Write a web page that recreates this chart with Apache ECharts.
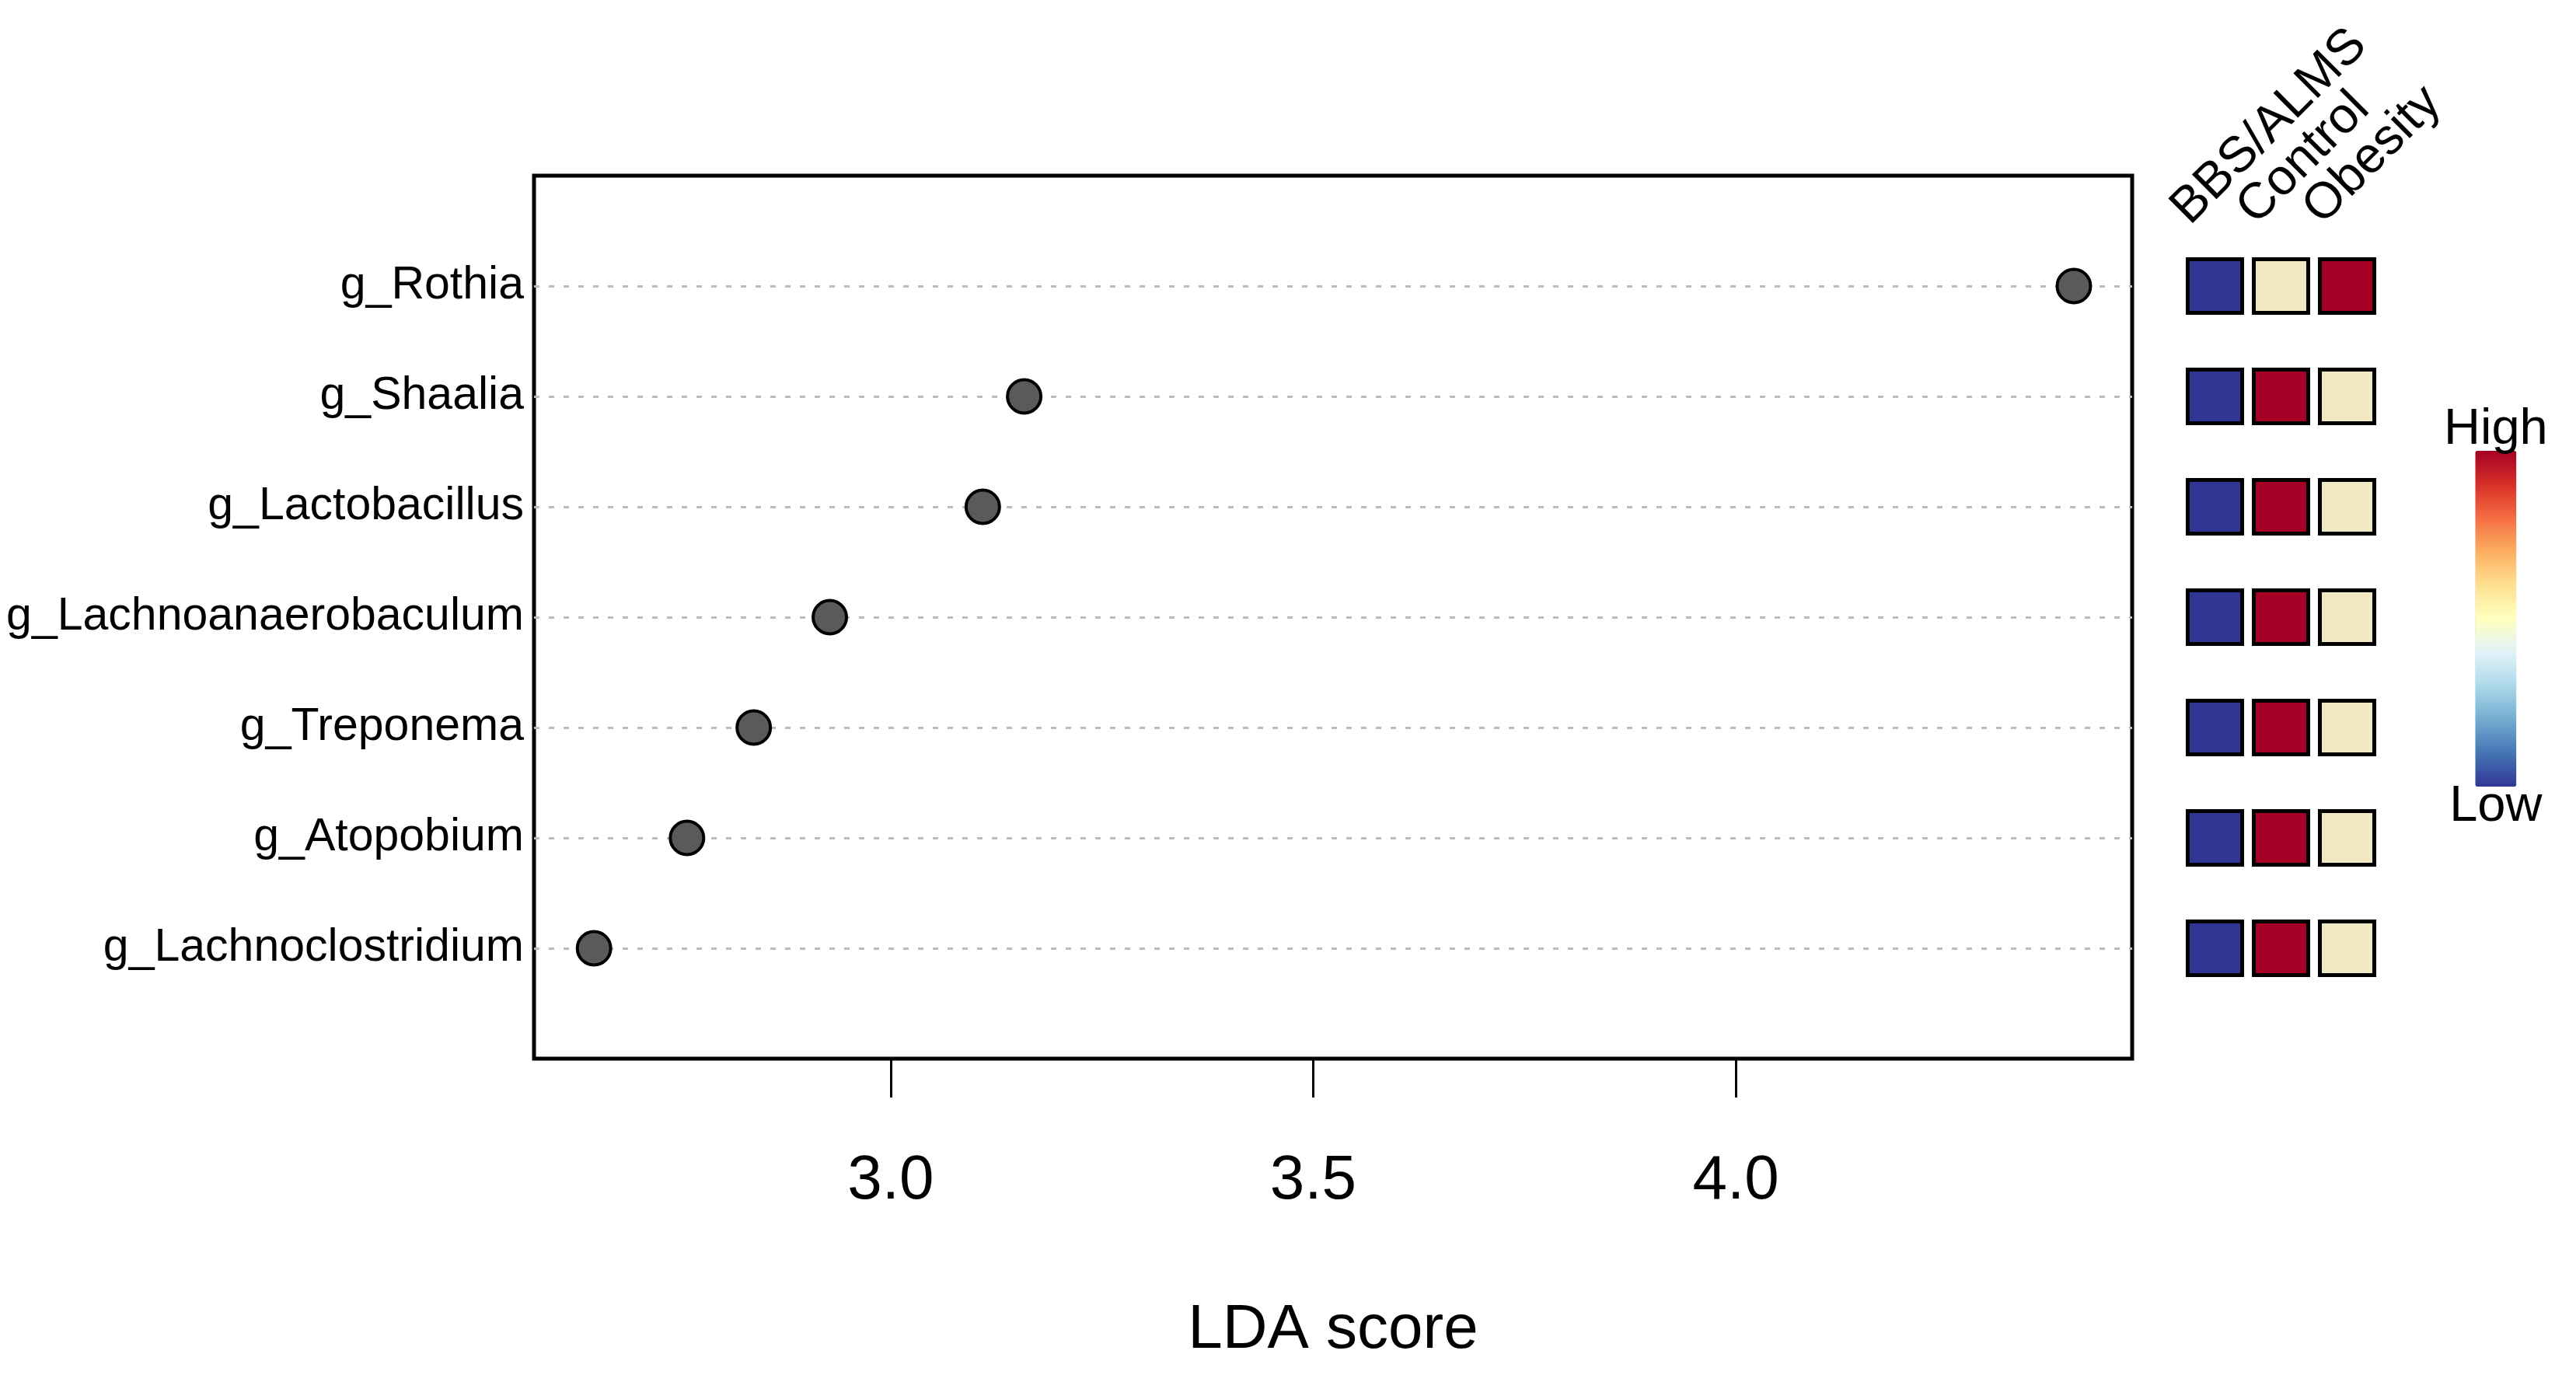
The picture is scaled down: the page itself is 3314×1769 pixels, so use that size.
<!DOCTYPE html>
<html>
<head>
<meta charset="utf-8">
<script src="https://cdn.jsdelivr.net/npm/echarts@6/dist/echarts.min.js"></script>
<style>
html,body{margin:0;padding:0;background:#fff;}
#chart{width:3314px;height:1769px;}
</style>
</head>
<body>
<div id="chart"></div>
<script>
// ---- data ----
const taxa = ['g_Rothia','g_Shaalia','g_Lactobacillus','g_Lachnoanaerobaculum','g_Treponema','g_Atopobium','g_Lachnoclostridium'];
const ldaScores = [4.400, 3.158, 3.109, 2.928, 2.838, 2.759, 2.649];
const groups = ['BBS/ALMS','Control','Obesity'];
// relative abundance level per taxon: [BBS/ALMS, Control, Obesity] (0 = low, 0.5 = mid, 1 = high)
const levelBBS     = [0, 0, 0, 0, 0, 0, 0];
const levelControl = [0.5, 1, 1, 1, 1, 1, 1];
const levelObesity = [1, 0.5, 0.5, 0.5, 0.5, 0.5, 0.5];
const xTicks = [3.0, 3.5, 4.0];

const FONT = 'Liberation Sans, Arial, sans-serif';
const levels = [levelBBS, levelControl, levelObesity];
const dotData = ldaScores.map((v, i) => [v, i + 1]);
const cellData = [];
taxa.forEach((t, i) => {
  levels.forEach((arr, j) => cellData.push([j, i + 1, arr[i]]));
});

const chart = echarts.init(document.getElementById('chart'), null, {renderer: 'canvas'});
chart.setOption({
  animation: false,
  backgroundColor: '#fff',
  textStyle: {fontFamily: FONT, color: '#000'},
  grid: [
    {left: 687, top: 226, width: 2056, height: 1136, show: true, borderColor: '#000', borderWidth: 5, backgroundColor: 'transparent', containLabel: false},
    {left: 2807, top: 226, width: 255, height: 1136, containLabel: false},
    {left: 2762, top: 321, width: 255, height: 10, containLabel: false}
  ],
  xAxis: [
    {
      gridIndex: 0, type: 'value', min: 2.578, max: 4.469, position: 'bottom',
      axisLine: {show: false, onZero: false},
      axisTick: {show: true, customValues: xTicks, length: 50, lineStyle: {color: '#000', width: 3}},
      axisLabel: {customValues: xTicks, formatter: v => Number(v).toFixed(1), fontSize: 80, margin: 118, color: '#000', fontFamily: FONT},
      splitLine: {show: false},
      name: 'LDA score', nameLocation: 'middle', nameGap: 310,
      nameTextStyle: {fontSize: 80, color: '#000', fontFamily: FONT}
    },
    {gridIndex: 1, type: 'category', data: groups, show: false, axisLine: {onZero: false}},
    {
      gridIndex: 2, type: 'category', data: groups, position: 'top',
      axisLine: {show: false}, axisTick: {show: false}, splitLine: {show: false},
      axisLabel: {rotate: 45, fontSize: 65, margin: 43, color: '#000', fontFamily: FONT, interval: 0}
    }
  ],
  yAxis: [
    {
      gridIndex: 0, type: 'value', min: 0, max: 8, interval: 1, inverse: true,
      axisLine: {show: false, onZero: false}, axisTick: {show: false},
      axisLabel: {formatter: v => taxa[v - 1] || '', fontSize: 59, margin: 13, color: '#000', fontFamily: FONT},
      splitLine: {show: true, showMinLine: false, showMaxLine: false, lineStyle: {color: '#bcbcbc', width: 3, type: [7, 12]}}
    },
    {gridIndex: 1, type: 'value', min: 0, max: 8, inverse: true, show: false, splitLine: {show: false}},
    {gridIndex: 2, type: 'value', show: false, splitLine: {show: false}}
  ],
  visualMap: [
    {
      type: 'piecewise', show: false, seriesIndex: 1, dimension: 2,
      pieces: [
        {value: 0, color: '#313695'},
        {value: 0.5, color: '#efe8c1'},
        {value: 1, color: '#a50026'}
      ]
    },
    {
      type: 'continuous', seriesIndex: 2, min: 0, max: 1, calculable: false,
      orient: 'vertical', left: 3129, top: 506, itemWidth: 53, itemHeight: 432,
      text: ['High', 'Low'], textGap: -6,
      textStyle: {fontSize: 65, color: '#000', fontFamily: FONT},
      inRange: {color: ['#313695','#4575b4','#74add1','#abd9e9','#e0f3f8','#ffffbf','#fee090','#fdae61','#f46d43','#d73027','#a50026']}
    }
  ],
  series: [
    {
      type: 'scatter', xAxisIndex: 0, yAxisIndex: 0, data: dotData,
      symbol: 'circle', symbolSize: 43, z: 5,
      itemStyle: {color: '#5a5a58', borderColor: '#000', borderWidth: 4, opacity: 1}
    },
    {
      type: 'scatter', xAxisIndex: 1, yAxisIndex: 1, data: cellData,
      symbol: 'rect', symbolSize: [70, 69],
      itemStyle: {borderColor: '#000', borderWidth: 5, opacity: 1}
    },
    {type: 'scatter', xAxisIndex: 1, yAxisIndex: 1, data: []}
  ]
});
</script>
</body>
</html>
